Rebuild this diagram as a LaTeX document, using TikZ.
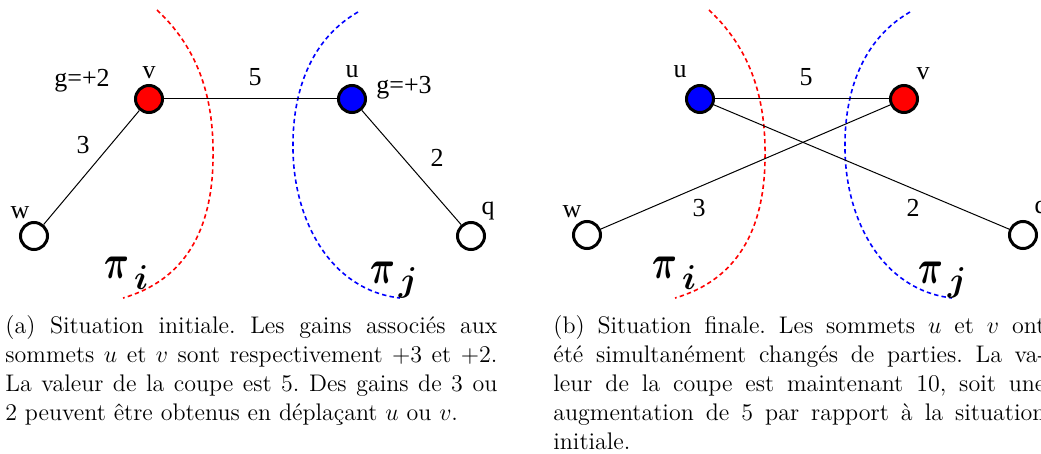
\documentclass[tikz,border=0pt]{standalone}
\usepackage{amsmath}
\usepackage{fontspec}
\newfontfamily\labfont{Liberation Serif}
\begin{document}
\begin{tikzpicture}[x=0.5pt,y=-0.5pt,
  vert/.style={circle,draw=black,line width=1.5pt,minimum size=13.5pt,inner sep=0pt},
  edge/.style={draw=black,line width=0.5pt},
  lab/.style={font=\labfont\fontsize{13}{15}\selectfont,inner sep=0pt},
  pilab/.style={font=\fontsize{17}{19}\selectfont,inner sep=0pt},
  cut/.style={line width=0.8pt,dash pattern=on 2.2pt off 1.6pt},
  capt/.style={anchor=north west,text width=246pt,align=justify,inner sep=0pt,font=\fontsize{12}{14.5}\selectfont\frenchspacing}]
\useasboundingbox (0,0) rectangle (1041,454);
% ---------- left panel ----------
\draw[cut,red] (157,10) .. controls (205,55) and (214,110) .. (213,160) .. controls (212,230) and (185,280) .. (123,298);
\draw[cut,blue] (358,12) .. controls (306,42) and (292,100) .. (293,150) .. controls (294,220) and (330,290) .. (400,298);
\node[vert,fill=red] (v1) at (149,99) {};
\node[vert,fill=blue] (u1) at (352,99) {};
\node[vert,fill=white] (w1) at (34,236) {};
\node[vert,fill=white] (q1) at (471,236) {};
\draw[edge] (v1) -- (u1);
\draw[edge] (v1) -- (w1);
\draw[edge] (u1) -- (q1);
\node[lab] (lv1) at (149,73) {v};
\node[lab] (lu1) at (352,72) {u};
\node[lab] (gv1) at (82,81) {g=+2};
\node[lab] (gu1) at (404,88) {g=+3};
\node[lab] (e51) at (255,77) {5};
\node[lab] (e31) at (83,145) {3};
\node[lab] (e21) at (437,158) {2};
\node[lab] (lw1) at (20,213) {w};
\node[lab] (lq1) at (488,211) {q};
\node[pilab] (pi1) at (117,268) {\scalebox{1}[1.4]{$\boldsymbol{\pi}$}};
\node[pilab] (pi1s) at (141,278) {$\boldsymbol{i}$};
\node[pilab] (pj1) at (383,273) {\scalebox{1}[1.4]{$\boldsymbol{\pi}$}};
\node[pilab] (pj1s) at (408,283) {$\boldsymbol{j}$};
% ---------- right panel ----------
\draw[cut,red] (709,10) .. controls (757,55) and (766,110) .. (765,160) .. controls (764,230) and (737,280) .. (675,298);
\draw[cut,blue] (910,12) .. controls (858,42) and (844,100) .. (845,150) .. controls (846,220) and (882,290) .. (952,298);
\node[vert,fill=blue] (u2) at (700,99) {};
\node[vert,fill=red] (v2) at (904,99) {};
\node[vert,fill=white] (w2) at (587,235) {};
\node[vert,fill=white] (q2) at (1023,235) {};
\draw[edge] (u2) -- (v2);
\draw[edge] (u2) -- (q2);
\draw[edge] (v2) -- (w2);
\node[lab] (lu2) at (680,72) {u};
\node[lab] (lv2) at (923,74) {v};
\node[lab] (e52) at (806,77) {5};
\node[lab] (e32) at (699,208) {3};
\node[lab] (e22) at (913,208) {2};
\node[lab] (lw2) at (572,212) {w};
\node[lab] (lq2) at (1041,210) {q};
\node[pilab] (pi2) at (665,268) {\scalebox{1}[1.4]{$\boldsymbol{\pi}$}};
\node[pilab] (pi2s) at (689,278) {$\boldsymbol{i}$};
\node[pilab] (pj2) at (931,273) {\scalebox{1}[1.4]{$\boldsymbol{\pi}$}};
\node[pilab] (pj2s) at (957,283) {$\boldsymbol{j}$};
% ---------- captions ----------
\node[capt] (capa) at (5,315) {(a) Situation initiale. Les gains associés aux\linebreak sommets $u$ et $v$ sont respectivement $+3$ et $+2$.\linebreak La valeur de la coupe est 5. Des gains de 3 ou\linebreak 2 peuvent être obtenus en déplaçant $u$ ou $v$.};
\node[capt] (capb) at (553,315) {(b) Situation finale. Les sommets $u$ et $v$ ont\linebreak été simultanément changés de parties. La va-\linebreak leur de la coupe est maintenant 10, soit une\linebreak augmentation de 5 par rapport à la situation\linebreak initiale.};
\end{tikzpicture}
\end{document}
